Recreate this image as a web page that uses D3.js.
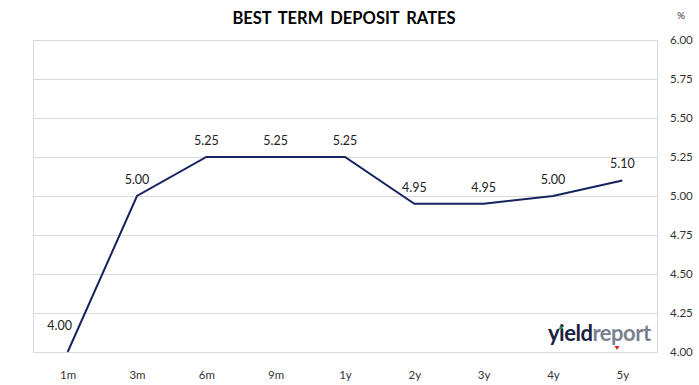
<!DOCTYPE html>
<html>
<head>
<meta charset="utf-8">
<script src="https://cdn.jsdelivr.net/npm/d3@7"></script>
<style>
  body { margin: 0; background: #fff; }
  text { font-family: Lato, "Open Sans", sans-serif; }
</style>
</head>
<body>
<div id="view"></div>
<script>
// chart data
const terms = ['1m', '3m', '6m', '9m', '1y', '2y', '3y', '4y', '5y'];
const rates = [4.00, 5.00, 5.25, 5.25, 5.25, 4.95, 4.95, 5.00, 5.10];
const yTicks = [4.00, 4.25, 4.50, 4.75, 5.00, 5.25, 5.50, 5.75, 6.00];

const W = 699, H = 385;
const margin = {top: 40, right: 42, bottom: 33, left: 33};
const width = W - margin.left - margin.right;
const height = H - margin.top - margin.bottom;

const svg = d3.select('#view')
    .append('svg')
        .attr('width', W)
        .attr('height', H);

// title
svg.append('text')
    .attr('x', 344)
    .attr('y', 24)
    .attr('text-anchor', 'middle')
    .attr('font-size', 16.5)
    .attr('font-weight', 'bold')
    .attr('fill', '#000')
    .attr('word-spacing', 3)
    .text('BEST TERM DEPOSIT RATES');

const g = svg.append('g')
    .attr('transform', `translate(${margin.left},${margin.top})`);

const x = d3.scalePoint().domain(terms).range([0, width]).padding(0.5);
const y = d3.scaleLinear().domain([4, 6]).range([height, 0]);

// gridlines
g.selectAll('line.grid')
    .data(yTicks)
    .join('line')
        .attr('class', 'grid')
        .attr('x1', 0)
        .attr('x2', width)
        .attr('y1', d => Math.round(y(d)) + 0.5)
        .attr('y2', d => Math.round(y(d)) + 0.5)
        .attr('stroke', '#d9d9d9')
        .attr('stroke-width', 1);

// plot border
g.append('rect')
    .attr('x', 0.5)
    .attr('y', 0.5)
    .attr('width', width)
    .attr('height', height)
    .attr('fill', 'none')
    .attr('stroke', '#d9d9d9');

// right axis
const yAxis = g.append('g')
    .attr('transform', `translate(${width},0)`)
    .call(d3.axisRight(y).tickValues(yTicks).tickFormat(d3.format('.2f')).tickSize(0).tickPadding(13));
yAxis.select('.domain').remove();
yAxis.selectAll('text')
    .attr('font-size', 11.5)
    .attr('fill', '#333')
    .style('font-family', 'Lato, sans-serif');

svg.append('text')
    .attr('x', 681)
    .attr('y', 19)
    .attr('text-anchor', 'middle')
    .attr('font-size', 10)
    .attr('fill', '#333')
    .text('%');

// bottom axis labels
const xAxis = g.append('g')
    .attr('transform', `translate(0,${height})`)
    .call(d3.axisBottom(x).tickSize(0).tickPadding(19));
xAxis.select('.domain').remove();
xAxis.selectAll('text')
    .attr('font-size', 11.5)
    .attr('fill', '#333')
    .style('font-family', 'Lato, sans-serif');

// logo
const logo = svg.append('text')
    .attr('x', 548)
    .attr('y', 341)
    .attr('font-size', 22)
    .attr('font-weight', 'bold')
    .attr('letter-spacing', -0.5);
logo.append('tspan').attr('fill', '#1c2140').text('yield');
logo.append('tspan').attr('fill', '#7a8290').text('report');
svg.append('path')
    .attr('d', 'M558.5,329 L561,325 L563.5,329 Z')
    .attr('fill', '#2e8b3a');
svg.append('path')
    .attr('d', 'M614.5,346 L619.5,346 L617,350 Z')
    .attr('fill', '#e02020');

// line
g.append('path')
    .datum(rates)
    .attr('fill', 'none')
    .attr('stroke', '#16235f')
    .attr('stroke-width', 2)
    .attr('d', d3.line()
        .x((d, i) => x(terms[i]))
        .y(d => y(d)));

// data labels
g.selectAll('text.label')
    .data(rates)
    .join('text')
        .attr('class', 'label')
        .attr('x', (d, i) => x(terms[i]) + (i === 0 ? -8 : 0))
        .attr('y', (d, i) => y(d) + (i === 0 ? -22 : -12))
        .attr('text-anchor', 'middle')
        .attr('font-size', 12.5)
        .attr('fill', '#222')
        .text(d => d3.format('.2f')(d));
</script>
</body>
</html>
